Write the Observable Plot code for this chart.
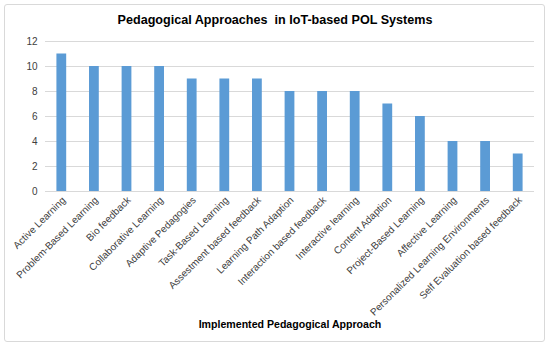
<!DOCTYPE html>
<html><head><meta charset="utf-8">
<script src="https://cdn.jsdelivr.net/npm/d3@7"></script>
<script src="https://cdn.jsdelivr.net/npm/@observablehq/plot@0.6"></script>
<style>
body{margin:0;background:#fff;font-family:"Liberation Sans",Arial,sans-serif;}
#wrap{position:relative;width:550px;height:347px;}
#frame{position:absolute;left:4px;top:4px;width:541px;height:338px;border:1px solid #d9d9d9;border-radius:3px;box-sizing:border-box;pointer-events:none;}
#title{position:absolute;left:0;top:12px;width:550px;text-align:center;font-weight:bold;font-size:12.6px;line-height:16px;color:#000;}
svg [aria-label="x-axis label"] text{font-weight:bold;font-size:10.6px;fill:#000;}
</style></head><body>
<div id="wrap"><div id="frame"></div><div id="title">Pedagogical Approaches&nbsp; in IoT-based POL Systems</div></div>
<script>
const categories = ["Active Learning","Problem-Based Learning","Bio feedback","Collaborative Learning","Adaptive Pedagogies","Task-Based Learning","Assestment based feedback","Learning Path Adaption","Interaction based feedback","Interactive learning","Content Adaption","Project-Based Learning","Affective Learning","Personalized Learning Environments","Self Evaluation based feedback"];
const values = [11,10,10,10,9,9,9,8,8,8,7,6,4,4,3];
const yTicks = [0,2,4,6,8,10,12];
const data = categories.map((c,i)=>({cat:c,val:values[i]}));
const chart = Plot.plot({
  width:550, height:347,
  marginTop:41, marginBottom:156, marginLeft:45, marginRight:16,
  style:{fontFamily:'"Liberation Sans",Arial,sans-serif', fontSize:"10px", color:"#404040", background:"transparent"},
  x:{domain:categories, paddingInner:0.7, paddingOuter:0.35, round:false},
  y:{domain:[0,12]},
  marks:[
    Plot.gridY(yTicks,{stroke:"#d9d9d9", strokeOpacity:1}),
    Plot.barY(data,{x:"cat", y:"val", fill:"#5b9bd5"}),
    Plot.ruleY([0],{stroke:"#d9d9d9"}),
    Plot.axisY(yTicks,{tickSize:0, tickPadding:8, label:null, fontSize:10}),
    Plot.axisX({tickSize:0, tickPadding:7, dx:2, tickRotate:-45, fontSize:10, label:"Implemented Pedagogical Approach", labelAnchor:"center", labelArrow:"none", labelOffset:136})
  ]
});
document.getElementById("wrap").appendChild(chart);
chart.style.position="absolute";chart.style.left="0";chart.style.top="0";
</script></body></html>
